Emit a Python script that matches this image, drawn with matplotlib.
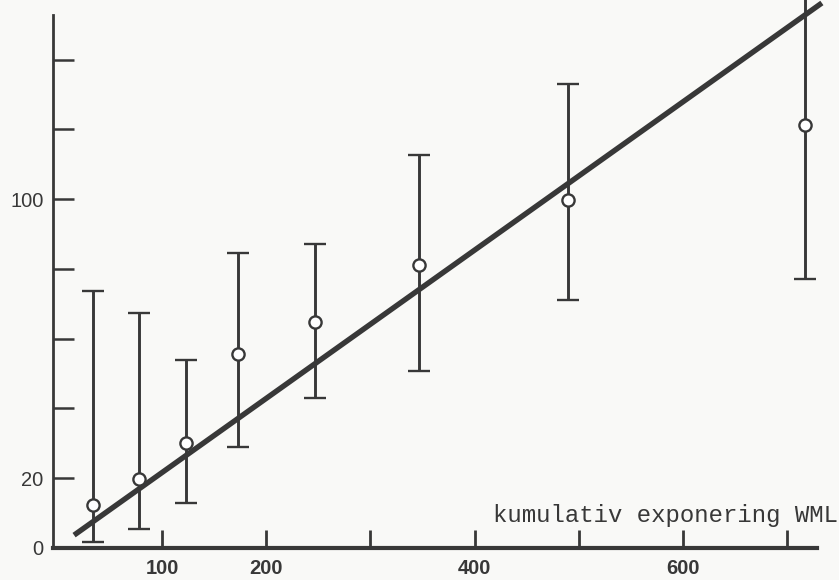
import matplotlib
matplotlib.use('Agg')
import matplotlib.pyplot as plt
from matplotlib.ticker import FixedLocator, FixedFormatter

exposure = [33, 77, 123, 173, 247, 347, 490, 718]
mean_val = [12.3, 19.8, 30.2, 55.6, 64.7, 81.2, 99.8, 121.3]
upper = [73.8, 67.5, 53.9, 84.5, 87.1, 112.6, 133.0, 166.0]
lower = [1.8, 5.4, 12.8, 28.9, 43.1, 50.8, 71.1, 77.1]

# fitted line
fit_x = [15, 734]
fit_slope = 0.2122
fit_intercept = 0.5

xticks = [100, 200, 300, 400, 500, 600, 700]
xtick_labels = ['100', '200', '', '400', '', '600', '']
yticks = [0, 20, 40, 60, 80, 100, 120, 140]
ytick_labels = ['0', '20', '', '', '', '100', '', '']
xlabel_text = 'kumulativ exponering WML'

ink = '#383838'
paper = '#f9f9f7'

fig = plt.figure(figsize=(8.39, 5.8), dpi=100, facecolor=paper)
ax = fig.add_axes([0.0635, 0.0552, 0.9099, 0.9189])
ax.set_facecolor(paper)

ax.set_xlim(-5, 729)
ax.set_ylim(0, 152.8)

# regression line
fit_y = [fit_intercept + fit_slope * v for v in fit_x]
ax.plot(fit_x, fit_y, color=ink, lw=3.9, solid_capstyle='butt', clip_on=False, zorder=2)

# error bars with open circles
yerr = [[m - lo for m, lo in zip(mean_val, lower)],
        [up - m for m, up in zip(mean_val, upper)]]
ax.errorbar(exposure, mean_val, yerr=yerr, fmt='o', color=ink, ecolor=ink,
            elinewidth=2.1, capsize=8, capthick=2.1, markersize=8.8,
            markerfacecolor='white', markeredgecolor=ink, markeredgewidth=1.7,
            clip_on=False, zorder=3)

for s in ['top', 'right']:
    ax.spines[s].set_visible(False)
ax.spines['left'].set_linewidth(2.0)
ax.spines['left'].set_color(ink)
ax.spines['bottom'].set_linewidth(3.0)
ax.spines['bottom'].set_color(ink)

ax.xaxis.set_major_locator(FixedLocator(xticks))
ax.xaxis.set_major_formatter(FixedFormatter(xtick_labels))
ax.yaxis.set_major_locator(FixedLocator(yticks))
ax.yaxis.set_major_formatter(FixedFormatter(ytick_labels))

ax.tick_params(axis='x', direction='in', length=13, width=2.0, color=ink, pad=8,
               labelsize=14.5, labelcolor=ink)
ax.tick_params(axis='y', direction='in', length=15, width=1.8, color=ink, pad=7,
               labelsize=14.5, labelcolor=ink)
ax.yaxis.get_major_ticks()[0].tick1line.set_visible(False)

for lab in ax.get_xticklabels():
    lab.set_fontfamily('Liberation Sans')
    lab.set_fontweight('bold')
for lab in ax.get_yticklabels():
    lab.set_fontfamily('Liberation Sans')

ax.text(417.5, 7.5, xlabel_text, fontsize=17.3, family='Liberation Mono',
        color=ink, va='baseline', ha='left', clip_on=False)

fig.savefig('out.png', dpi=100, facecolor=paper)
